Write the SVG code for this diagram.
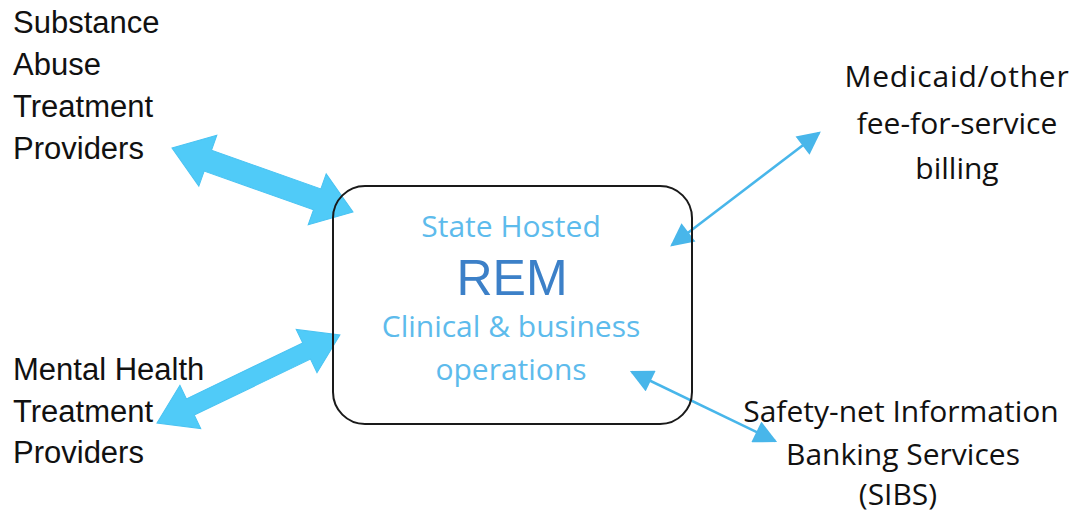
<svg xmlns="http://www.w3.org/2000/svg" width="1074" height="513" viewBox="0 0 1074 513">
<style>
.lbl{font-family:"Liberation Sans",Arial,sans-serif;font-size:31px;fill:#111}
.cal{font-family:"Open Sans","Noto Sans",sans-serif;font-size:30px;fill:#111}
.inner{font-family:"Open Sans","Noto Sans",sans-serif;font-size:30px;fill:#5DBBEC}
.rem{font-family:"Liberation Sans",Arial,sans-serif;font-size:50px;fill:#3C80C8}
.thick{fill:#50CBF8;stroke:#4AC3F2;stroke-width:1}
.thin{stroke:#48B6EA;stroke-width:2.5;fill:none}
</style>
<defs>
<marker id="ah" viewBox="0 0 10 10" refX="9" refY="5" markerWidth="24" markerHeight="23" markerUnits="userSpaceOnUse" orient="auto-start-reverse">
<path d="M0,0 L10,5 L0,10 z" fill="#48B6EA"/>
</marker>
</defs>
<g id="connectors">
<polygon class="thick" transform="translate(172,148) rotate(19.47)" points="0,0 38,-27 38,-11 154,-11 154,-27 192,0 154,27 154,11 38,11 38,27"/>
<polygon class="thick" transform="translate(157,423) rotate(-25.7)" points="0,0 37,-24 37,-9 166,-9 166,-24 203,0 166,24 166,9 37,9 37,24"/>
<line class="thin" x1="672" y1="245" x2="819" y2="133" marker-start="url(#ah)" marker-end="url(#ah)"/>
<line class="thin" x1="632" y1="372" x2="775" y2="441" marker-start="url(#ah)" marker-end="url(#ah)"/>
</g>
<g id="rem">
<rect x="333" y="186" width="359" height="238" rx="32" ry="32" fill="#fff" fill-opacity="0" stroke="#1a1a1a" stroke-width="2"/>
<text class="inner" x="511" y="237" text-anchor="middle">State Hosted</text>
<text class="rem" x="512" y="295" text-anchor="middle">REM</text>
<text class="inner" x="511" y="337" text-anchor="middle">Clinical &amp; business</text>
<text class="inner" x="511" y="380" text-anchor="middle">operations</text>
</g>
<g id="substance">
<text class="lbl" x="13" y="33">Substance</text>
<text class="lbl" x="13" y="75">Abuse</text>
<text class="lbl" x="13" y="117">Treatment</text>
<text class="lbl" x="13" y="159">Providers</text>
</g>
<g id="mental">
<text class="lbl" x="13" y="380">Mental Health</text>
<text class="lbl" x="13" y="422">Treatment</text>
<text class="lbl" x="13" y="463">Providers</text>
</g>
<g id="medicaid">
<text class="cal" x="957" y="87" text-anchor="middle" letter-spacing="0.8">Medicaid/other</text>
<text class="cal" x="957" y="134" text-anchor="middle">fee-for-service</text>
<text class="cal" x="957" y="179" text-anchor="middle">billing</text>
</g>
<g id="sibs">
<text class="cal" x="901" y="422" text-anchor="middle">Safety-net Information</text>
<text class="cal" x="903" y="465" text-anchor="middle">Banking Services</text>
<text class="cal" x="898" y="505" text-anchor="middle">(SIBS)</text>
</g>
</svg>
